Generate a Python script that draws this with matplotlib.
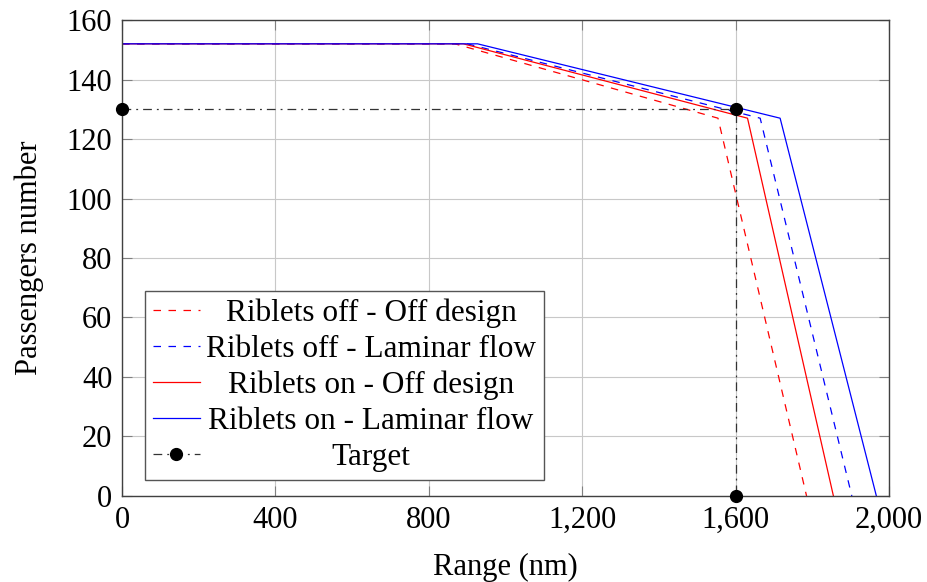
import matplotlib.pyplot as plt
from matplotlib.ticker import FuncFormatter
from matplotlib.transforms import Affine2D

# payload-range curves (range in nm, passengers)
off_design_off_x = [0, 868, 1554, 1785]
off_design_off_y = [152, 152, 127, 0]
laminar_off_x = [0, 900, 1664, 1903]
laminar_off_y = [152, 152, 127, 0]
off_design_on_x = [0, 890, 1631, 1855]
off_design_on_y = [152, 152, 127, 0]
laminar_on_x = [0, 927, 1716, 1967]
laminar_on_y = [152, 152, 127, 0]

# design target: 130 passengers over 1,600 nm
target_x = [0, 1600, 1600]
target_y = [130, 130, 0]

plt.rcParams['font.family'] = ['Liberation Serif', 'DejaVu Serif']
plt.rcParams['font.size'] = 22

fig = plt.figure(figsize=(9.28, 5.82), dpi=100)
ax = fig.add_axes([0.1315, 0.1478, 0.8265, 0.8178])

lw = 0.9
ax.plot(off_design_off_x, off_design_off_y, color='red', lw=lw, dashes=(6, 6),
        label='Riblets off - Off design')
ax.plot(laminar_off_x, laminar_off_y, color='blue', lw=lw, dashes=(6, 6),
        label='Riblets off - Laminar flow')
ax.plot(off_design_on_x, off_design_on_y, color='red', lw=lw,
        label='Riblets on - Off design')
ax.plot(laminar_on_x, laminar_on_y, color='blue', lw=lw,
        label='Riblets on - Laminar flow')
ax.plot(target_x, target_y, color='#333333', lw=lw, dashes=(7, 4, 1.5, 4),
        marker='o', markersize=8.5, markerfacecolor='black', markeredgecolor='black',
        label='Target', clip_on=False, zorder=5)

ax.set_xlim(0, 2000)
ax.set_ylim(0, 160)
ax.set_xticks([0, 400, 800, 1200, 1600, 2000])
ax.set_yticks(range(0, 161, 20))
ax.xaxis.set_major_formatter(FuncFormatter(lambda v, p: f'{int(v):,}'))
ax.grid(True, color='#c8c8c8', lw=0.8)
ax.set_axisbelow(True)
ax.tick_params(direction='in', length=7.5, width=0.8, color='#808080',
               top=True, right=True, pad=7)
for s in ax.spines.values():
    s.set_color('#404040')
    s.set_linewidth(1.0)

ax.set_xlabel('Range (nm)', labelpad=13)
ax.set_ylabel('Passengers number', labelpad=16)

leg = ax.legend(loc='lower left', bbox_to_anchor=(0.030, 0.034), borderaxespad=0,
                fancybox=False, framealpha=1, edgecolor='#555555',
                handlelength=1.5, handletextpad=0.2, labelspacing=0.22,
                borderpad=0.25, fontsize=22.5)
leg.get_frame().set_linewidth(1.0)

# centre each legend label within the text column
fig.canvas.draw()
r = fig.canvas.get_renderer()
widths = [t.get_window_extent(r).width for t in leg.get_texts()]
wmax = max(widths)
for t, w in zip(leg.get_texts(), widths):
    t.set_transform(t.get_transform() + Affine2D().translate((wmax - w) / 2, 0))

fig.savefig('out.png', dpi=100)
